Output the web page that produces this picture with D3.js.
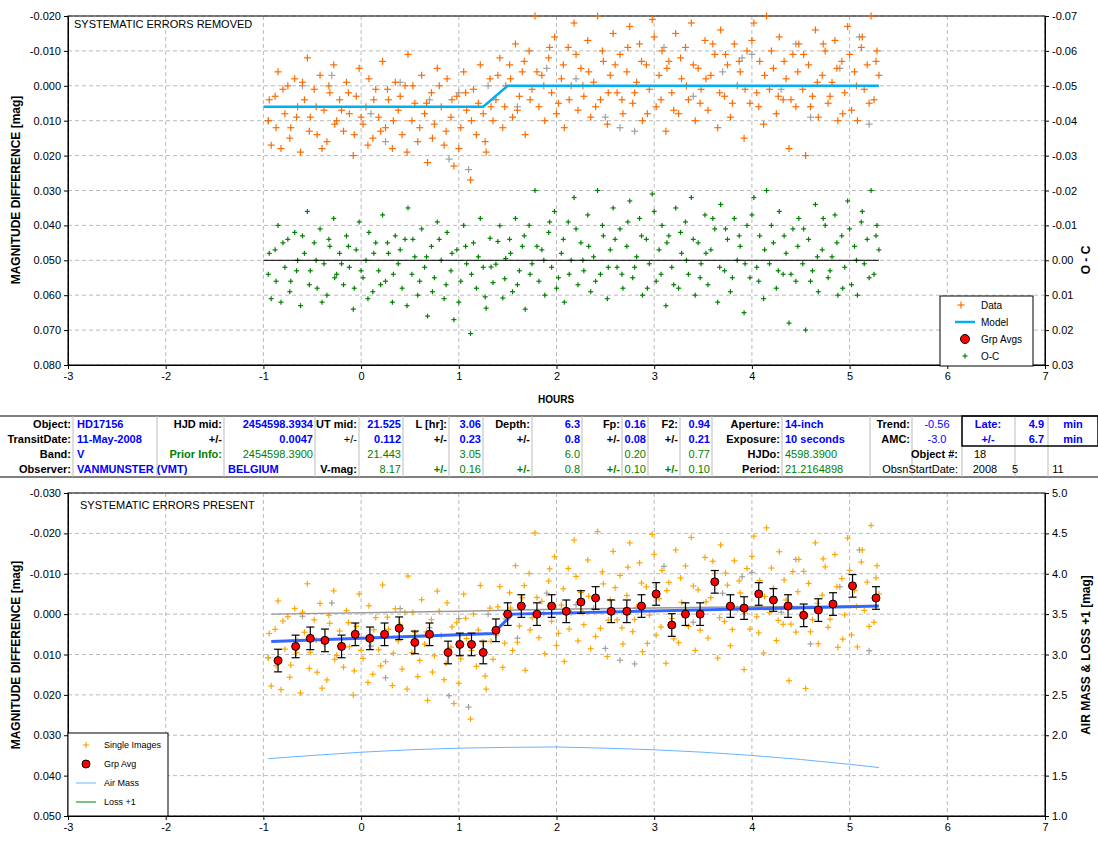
<!DOCTYPE html><html><head><meta charset="utf-8">
<script src="https://cdn.jsdelivr.net/npm/d3@7"></script>
<style>body{margin:0;background:#fff}text{font-family:"Liberation Sans",Arial,sans-serif}</style></head><body>
<svg id="c" width="1098" height="846"></svg>
<script>
const xTicks=[-3,-2,-1,0,1,2,3,4,5,6,7];
const topData=[[-0.95,.010],[-0.92,.017],[-0.88,.003],[-0.85,-.004],[-0.82,.018],[-0.78,.008],[-0.75,.000],[-0.72,.012],[-0.68,-.002],[-0.65,.006],[-0.62,.019],[-0.58,.004],[-0.55,-.008],[-0.52,.009],[-0.48,.001],[-0.45,.014],[-0.42,-.003],[-0.38,.007],[-0.35,.016],[-0.32,.002],[-0.28,-.006],[-0.25,.010],[-0.22,.004],[-0.18,.013],[-0.15,-.001],[-0.12,.008],[-0.08,.020],[-0.05,.003],[-0.02,-.005],[0.02,.011],[0.05,.006],[0.08,-.002],[0.12,.015],[0.15,.001],[0.18,.009],[0.22,-.007],[0.25,.012],[0.28,.004],[0.32,.018],[0.35,-.001],[0.38,.007],[0.42,.014],[0.45,.000],[0.48,-.009],[0.52,.010],[0.55,.005],[0.58,.016],[0.62,-.003],[0.65,.008],[0.68,.022],[0.72,.002],[0.75,.011],[0.78,-.005],[0.82,.006],[0.85,.017],[0.88,-.002],[0.92,.009],[0.95,.023],[0.98,.003],[1.02,.012],[1.05,-.004],[1.08,.007],[1.12,.027],[1.15,.001],[1.18,.014],[1.22,-.006],[1.25,.008],[1.28,.019],[1.32,-.002],[1.35,.010],[1.38,.004],[1.42,-.008],[1.45,.012],[1.48,.000],[1.52,-.006],[1.55,.009],[1.58,-.012],[1.62,.003],[1.65,-.004],[1.68,.014],[1.72,-.010],[1.75,.001],[1.78,-.020],[1.82,.006],[1.85,-.003],[1.88,.010],[1.92,-.008],[1.95,.002],[1.98,-.014],[2.02,.005],[2.05,-.002],[2.08,.012],[2.12,-.011],[2.15,.000],[2.18,-.018],[2.22,.007],[2.25,-.005],[2.28,.003],[2.32,-.013],[2.35,.009],[2.38,-.001],[2.42,-.020],[2.45,.004],[2.48,-.007],[2.52,.011],[2.55,-.003],[2.58,-.015],[2.62,.002],[2.65,-.009],[2.68,.008],[2.72,-.004],[2.75,-.017],[2.78,.005],[2.82,-.001],[2.85,-.012],[2.88,.010],[2.92,-.006],[2.95,.001],[2.98,-.019],[3.02,.006],[3.05,-.003],[3.08,-.010],[3.12,.013],[3.15,-.007],[3.18,.002],[3.22,-.015],[3.25,.008],[3.28,-.002],[3.32,-.011],[3.35,.004],[3.38,-.018],[3.42,.010],[3.45,-.005],[3.48,.001],[3.52,-.013],[3.55,.007],[3.58,-.003],[3.62,-.009],[3.65,.012],[3.68,-.016],[3.72,.003],[3.75,-.006],[3.78,.009],[3.82,-.012],[3.85,.000],[3.88,-.004],[3.92,.015],[3.95,-.010],[3.98,.005],[4.02,-.018],[4.05,.002],[4.08,-.007],[4.12,.011],[4.15,-.020],[4.18,.001],[4.22,-.005],[4.25,.008],[4.28,-.014],[4.32,.004],[4.35,-.002],[4.38,.018],[4.42,-.009],[4.45,.006],[4.48,-.012],[4.52,.001],[4.55,.020],[4.58,-.006],[4.62,.003],[4.65,-.016],[4.68,.009],[4.72,-.003],[4.75,-.010],[4.78,.005],[4.82,-.001],[4.85,-.013],[4.88,.010],[4.92,-.007],[4.95,.002],[4.98,-.017],[5.02,.007],[5.05,-.004],[5.08,.010],[5.12,-.011],[5.15,.001],[5.18,-.006],[5.22,-.020],[5.25,.004],[5.28,-.010],[5.3,-.003],
[-0.94,.004],[-0.87,.012],[-0.8,.001],[-0.73,.015],[-0.66,.009],[-0.6,-.001],[-0.53,.013],[-0.46,.006],[-0.4,.018],[-0.33,.000],[-0.27,.011],[-0.2,.007],[-0.13,.002],[-0.07,.014],[0.0,.009],[0.07,.017],[0.13,.004],[0.2,.013],[0.27,.001],[0.33,.010],[0.4,.003],[0.47,.019],[0.53,.000],[0.6,.012],[0.67,.005],[0.73,.015],[0.8,.000],[0.87,.013],[0.93,.004],[1.0,.018],[1.07,.002],[1.13,.010],[1.2,.005],[1.27,.016],[1.33,.006],[1.4,-.003],[1.47,.006],[1.53,-.002],[1.6,.007],[1.67,-.007],[1.73,.004],[1.8,-.004],[1.87,.000],[1.93,-.011],[2.0,.008],[2.07,-.006],[2.13,.004],[2.2,-.009],[2.27,.000],[2.33,-.004],[2.4,.006],[2.47,-.010],[2.53,.002],[2.6,-.006],[2.67,.004],[2.73,-.011],[2.8,.002],[2.87,-.007],[2.93,.008],[3.0,-.014],[3.07,.004],[3.13,-.005],[3.2,.007],[3.27,-.008],[3.33,.000],[3.4,-.006],[3.47,.005],[3.53,-.002],[3.6,-.012],[3.67,.002],[3.73,-.009],[3.8,.005],[3.87,-.007],[3.93,.001],[4.0,-.013],[4.07,.006],[4.13,-.003],[4.2,-.010],[4.27,.003],[4.33,-.007],[4.4,.004],[4.47,-.004],[4.53,-.009],[4.6,.006],[4.67,-.001],[4.73,-.012],[4.8,.003],[4.87,-.005],[4.93,.008],[5.0,-.009],[5.07,.000],[5.13,-.014],[5.2,.005],[5.27,-.007]];
const topGray=[[-0.95,.010],[-0.6,.000],[-0.3,-.003],[0.1,.008],[0.4,-.001],[0.7,.004],[1.0,.002],[1.3,.000],[1.6,.006],[1.9,-.005],[2.2,-.002],[2.5,.009],[2.8,.013],[3.1,-.011],[3.4,.003],[3.7,-.004],[4.0,-.009],[4.3,.001],[4.6,.009],[4.9,-.005],[5.1,-.014],[5.2,.011],[0.25,.016],[0.9,.021],[1.1,.024],[2.65,.012],[3.9,-.008],[4.45,-.012]];
const modelTopX=[-1,1.25,1.5,5.3], modelTopY=[.006,.006,.000,.000];
const modelBotX=[-0.92,1.35,1.55,5.3], modelBotY=[.0068,.0048,.000,-.002];
const grayLineX=[-0.92,1,2,3,4,5.3], grayLineY=[.0000,-.0007,-.0012,-.0015,-.0018,-.002];
const grpX=[-0.85,-0.67,-0.52,-0.37,-0.2,-0.06,0.09,0.24,0.39,0.55,0.7,0.89,1.01,1.13,1.25,1.38,1.5,1.64,1.8,1.95,2.1,2.25,2.4,2.56,2.72,2.87,3.02,3.18,3.32,3.47,3.62,3.78,3.92,4.07,4.22,4.37,4.53,4.68,4.83,5.03,5.27];
const grpY=[.0115,.008,.006,.0065,.008,.005,.006,.005,.0035,.007,.005,.0095,.0075,.0075,.0095,.004,.000,-.002,.000,-.002,-.0007,-.003,-.004,-.0007,-.0007,-.002,-.005,.0027,.000,.000,-.008,-.002,-.0015,-.005,-.0035,-.002,.0003,-.001,-.0025,-.007,-.004];
const airX=[-0.95,-0.5,0,0.5,1,1.5,2,2.5,3,3.5,4,4.5,5,5.3], airY=[1.71,1.75,1.79,1.82,1.84,1.85,1.855,1.84,1.82,1.79,1.75,1.70,1.64,1.60];
const yTopTicks=[-0.02,-0.01,0,0.01,0.02,0.03,0.04,0.05,0.06,0.07,0.08];
const yTopRTicks=[-0.07,-0.06,-0.05,-0.04,-0.03,-0.02,-0.01,0,0.01,0.02,0.03];
const yBotTicks=[-0.03,-0.02,-0.01,0,0.01,0.02,0.03,0.04,0.05];
const yBotRTicks=[5,4.5,4,3.5,3,2.5,2,1.5,1];

const svg=d3.select("#c");
const x=d3.scaleLinear([-3,7],[68,1045]);
const yT=d3.scaleLinear([-0.02,0.08],[16,365]), yTR=d3.scaleLinear([-0.07,0.03],[16,365]);
const yB=d3.scaleLinear([-0.03,0.05],[493,816]), yBR=d3.scaleLinear([5,1],[493,816]);
const interp=(xs,ys)=>d3.scaleLinear(xs,ys).clamp(true);
const mT=interp(modelTopX,modelTopY), mB=interp(modelBotX,modelBotY);
const fm=f=>v=>d3.format(f)(v).replace("−","-");

function frame(yl,yr,ticksL,ticksR,fl,fr){
  const g=svg.append("g");
  xTicks.forEach(t=>g.append("line").attr("x1",x(t)).attr("x2",x(t)).attr("y1",yl.range()[0]).attr("y2",yl.range()[1]).attr("stroke","#bbb").attr("stroke-dasharray","4,3"));
  ticksL.forEach(t=>g.append("line").attr("x1",68).attr("x2",1045).attr("y1",yl(t)).attr("y2",yl(t)).attr("stroke","#bbb").attr("stroke-dasharray","4,3"));
  g.append("rect").attr("x",68).attr("y",yl.range()[0]).attr("width",977).attr("height",yl.range()[1]-yl.range()[0]).attr("fill","none").attr("stroke","#000");
  const b=yl.range()[1];
  svg.append("g").attr("transform",`translate(0,${b})`).call(d3.axisBottom(x).tickValues(xTicks).tickFormat(fm("d")).tickSize(4));
  svg.append("g").attr("transform","translate(68,0)").call(d3.axisLeft(yl).tickValues(ticksL).tickFormat(fm(fl)).tickSize(4));
  svg.append("g").attr("transform","translate(1045,0)").call(d3.axisRight(yr).tickValues(ticksR).tickFormat(fm(fr)).tickSize(4));
}
frame(yT,yTR,yTopTicks,yTopRTicks,".3f",".2f");
frame(yB,yBR,yBotTicks,yBotRTicks,".3f",".1f");
svg.selectAll(".tick text").attr("font-size",11).attr("fill","#000").style("font-family","Liberation Sans, Arial");
svg.selectAll(".domain").attr("stroke","#000");

function plus(data,xf,yf,col,s,w){
  const g=svg.append("g").attr("stroke",col).attr("stroke-width",w||1.2);
  data.forEach(d=>{const px=xf(d),py=yf(d);
    g.append("line").attr("x1",px-s).attr("x2",px+s).attr("y1",py).attr("y2",py);
    g.append("line").attr("x1",px).attr("x2",px).attr("y1",py-s).attr("y2",py+s);});
}
const line=(xs,ys,xsc,ysc)=>d3.line().x(i=>xsc(xs[i])).y(i=>ysc(ys[i]))(d3.range(xs.length));

// top plot
plus(topGray,d=>x(d[0]),d=>yT(d[1]),"#a0a0a0",3.5);
plus(topData,d=>x(d[0]),d=>yT(d[1]),"#ff6a00",3.5);
plus(topData,d=>x(d[0]),d=>yTR(d[1]-mT(d[0])),"#008000",2.5);
svg.append("line").attr("x1",x(-1)).attr("x2",x(5.3)).attr("y1",yTR(0)).attr("y2",yTR(0)).attr("stroke","#000");
svg.append("path").attr("d",line(modelTopX,modelTopY,x,yT)).attr("fill","none").attr("stroke","#00b0f0").attr("stroke-width",2.5);

// bottom plot
svg.append("path").attr("d",line(airX,airY,x,yBR)).attr("fill","none").attr("stroke","#66b3ff").attr("stroke-width",1);
plus(topGray,d=>x(d[0]),d=>yB(d[1]+mB(d[0])-mT(d[0])),"#a0a0a0",3);
plus(topData,d=>x(d[0]),d=>yB(d[1]+mB(d[0])-mT(d[0])),"#ffa500",3);
svg.append("path").attr("d",line(grayLineX,grayLineY,x,yB)).attr("fill","none").attr("stroke","#999").attr("stroke-width",1.5);
svg.append("path").attr("d",line(modelBotX,modelBotY,x,yB)).attr("fill","none").attr("stroke","#3366ff").attr("stroke-width",3);
const eb=svg.append("g");
grpX.forEach((gx,i)=>{const px=x(gx),gy=grpY[i];
  eb.append("line").attr("x1",px).attr("x2",px).attr("y1",yB(gy-0.0028)).attr("y2",yB(gy+0.0028)).attr("stroke","#000").attr("stroke-width",1.2);
  [gy-0.0028,gy+0.0028].forEach(v=>eb.append("line").attr("x1",px-4).attr("x2",px+4).attr("y1",yB(v)).attr("y2",yB(v)).attr("stroke","#000").attr("stroke-width",1.2));
  eb.append("circle").attr("cx",px).attr("cy",yB(gy)).attr("r",4).attr("fill","#f00").attr("stroke","#000");
});

// labels
const T=(t,xx,yy,o={})=>svg.append("text").attr("x",xx).attr("y",yy).text(t).attr("font-size",o.s||11).attr("font-weight",o.b?"bold":null).attr("fill",o.c||"#000").attr("text-anchor",o.a||"start").attr("transform",o.r?`rotate(-90,${xx},${yy})`:null);
T("SYSTEMATIC ERRORS REMOVED",74,28);
T("SYSTEMATIC ERRORS PRESENT",80,509);
T("HOURS",556,403,{b:1,s:10,a:"middle"});
T("MAGNITUDE DIFFERENCE [mag]",20,190,{b:1,s:12,a:"middle",r:1});
T("MAGNITUDE DIFFERENCE [mag]",20,655,{b:1,s:12,a:"middle",r:1});
T("O - C",1090,260,{b:1,s:12,a:"middle",r:1});
T("AIR MASS & LOSS +1 [mag]",1090,655,{b:1,s:12,a:"middle",r:1});

// legends
svg.append("rect").attr("x",940).attr("y",296).attr("width",93).attr("height",70).attr("fill","#fff").attr("stroke","#000");
plus([[0]],()=>961,()=>305,"#ff6a00",3.5);
svg.append("line").attr("x1",955).attr("x2",975).attr("y1",322).attr("y2",322).attr("stroke","#00b0f0").attr("stroke-width",2.5);
svg.append("circle").attr("cx",965).attr("cy",339).attr("r",4.5).attr("fill","#f00").attr("stroke","#000");
plus([[0]],()=>965,()=>356,"#008000",2.5);
[["Data",305],["Model",322],["Grp Avgs",339],["O-C",356]].forEach(d=>T(d[0],981,d[1]+4,{s:10}));
svg.append("rect").attr("x",68).attr("y",733).attr("width",100).attr("height",83).attr("fill","#fff").attr("stroke","#000");
plus([[0]],()=>86,()=>745,"#ffa500",3);
svg.append("circle").attr("cx",86).attr("cy",764).attr("r",4).attr("fill","#f00").attr("stroke","#000");
svg.append("line").attr("x1",76).attr("x2",96).attr("y1",783).attr("y2",783).attr("stroke","#66b3ff");
svg.append("line").attr("x1",76).attr("x2",96).attr("y1",802).attr("y2",802).attr("stroke","#008000");
[["Single Images",745],["Grp Avg",764],["Air Mass",783],["Loss +1",802]].forEach(d=>T(d[0],104,d[1]+3,{s:9}));

// table
const B="#0000ff",G="#008000",K="#000";
const rowsY=[416,431,446,461,476];
const tb=svg.append("g");
tb.append("line").attr("x1",0).attr("x2",1098).attr("y1",416).attr("y2",416).attr("stroke","#000");
tb.append("line").attr("x1",0).attr("x2",1098).attr("y1",477).attr("y2",477).attr("stroke","#000");
[73,157,224,315,359,403,449,483,532,582,622,648,680,712,782,870,912,962,1015,1048].forEach(v=>tb.append("line").attr("x1",v).attr("x2",v).attr("y1",416).attr("y2",477).attr("stroke","#bbb"));
tb.append("rect").attr("x",962).attr("y",416).attr("width",136).attr("height",30).attr("fill","none").attr("stroke","#000").attr("stroke-width",1.5);
const cells=[
[["Object:",71,"e",K,1],["HD17156",77,"s",B,1],["HJD mid:",222,"e",K,1],["2454598.3934",313,"e",B,1],["UT mid:",357,"e",K,1],["21.525",401,"e",B,1],["L [hr]:",447,"e",K,1],["3.06",481,"e",B,1],["Depth:",530,"e",K,1],["6.3",580,"e",B,1],["Fp:",620,"e",K,1],["0.16",646,"e",B,1],["F2:",678,"e",K,1],["0.94",710,"e",B,1],["Aperture:",780,"e",K,1],["14-inch",785,"s",B,1],["Trend:",910,"e",K,1],["-0.56",937,"m",B,0],["Late:",988,"m",B,1],["4.9",1044,"e",B,1],["min",1073,"m",B,1]],
[["TransitDate:",71,"e",K,1],["11-May-2008",77,"s",B,1],["+/-",222,"e",K,1],["0.0047",313,"e",B,1],["+/-",357,"e",K,0],["0.112",401,"e",B,1],["+/-",447,"e",K,1],["0.23",481,"e",B,1],["+/-",530,"e",K,1],["0.8",580,"e",B,1],["+/-",620,"e",K,1],["0.08",646,"e",B,1],["+/-",678,"e",K,1],["0.21",710,"e",B,1],["Exposure:",780,"e",K,1],["10 seconds",785,"s",B,1],["AMC:",910,"e",K,1],["-3.0",937,"m",B,0],["+/-",988,"m",B,1],["6.7",1044,"e",B,1],["min",1073,"m",B,1]],
[["Band:",71,"e",K,1],["V",77,"s",B,1],["Prior Info:",222,"e",G,1],["2454598.3900",313,"e",G,0],["21.443",401,"e",G,0],["3.05",481,"e",G,0],["6.0",580,"e",G,0],["0.20",646,"e",G,0],["0.77",710,"e",G,0],["HJDo:",780,"e",K,1],["4598.3900",785,"s",G,0],["Object #:",958,"e",K,1],["18",980,"m",K,0]],
[["Observer:",71,"e",K,1],["VANMUNSTER (VMT)",77,"s",B,1],["BELGIUM",228,"s",B,1],["V-mag:",357,"e",K,1],["8.17",401,"e",G,0],["+/-",447,"e",G,1],["0.16",481,"e",G,0],["+/-",530,"e",G,1],["0.8",580,"e",G,0],["+/-",620,"e",G,1],["0.10",646,"e",G,0],["+/-",678,"e",G,1],["0.10",710,"e",G,0],["Period:",780,"e",K,1],["21.2164898",785,"s",G,0],["ObsnStartDate:",958,"e",K,0],["2008",985,"m",K,0],["5",1015,"m",K,0],["11",1058,"m",K,0]]];
const anc={e:"end",s:"start",m:"middle"};
cells.forEach((r,i)=>r.forEach(c=>T(c[0],c[1],rowsY[i]+12,{a:anc[c[2]],c:c[3],b:c[4],s:11})));
</script></body></html>
